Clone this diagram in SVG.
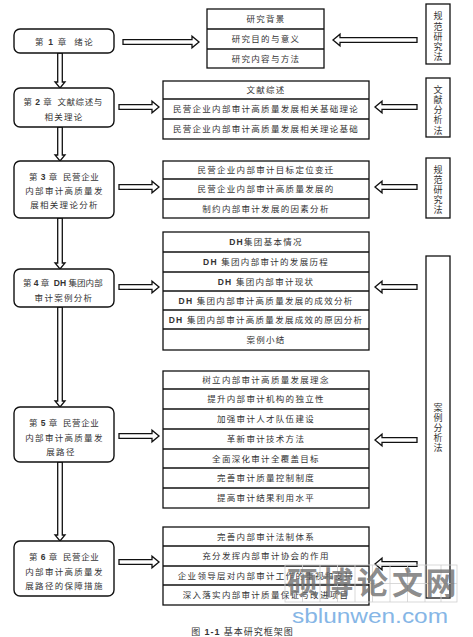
<svg xmlns="http://www.w3.org/2000/svg" width="473" height="637" viewBox="0 0 473 637">
<style>
text{font-family:"Liberation Serif","Noto Sans CJK SC",serif;font-size:8.5px;fill:#333;letter-spacing:1.3px;white-space:pre}
.c{text-anchor:middle}
.b{font-weight:bold;font-family:"Liberation Sans","Noto Sans CJK SC",sans-serif}
.box{fill:#fff;stroke:#111;stroke-width:1.3}
.ch{fill:#fff;stroke:#111;stroke-width:1.4}
.div{stroke:#111;stroke-width:1.7}
.arr{fill:#fff;stroke:#111;stroke-width:1.3;stroke-linejoin:miter}
.v{text-anchor:middle;font-size:9px;letter-spacing:0}
.wm{font-family:"Noto Sans CJK SC",sans-serif;font-weight:bold;font-size:31px;fill:#6e6e6e;fill-opacity:0.8;text-anchor:middle;letter-spacing:0}
.grid{fill:none;stroke:#cfcfcf;stroke-width:0.8}
</style>

<g id="connectors">
  <polygon class="arr" points="57.7,53 62.3,53 62.3,82 65,82 60,88 55,82 57.7,82"/>
  <polygon class="arr" points="57.7,127 62.3,127 62.3,155 65,155 60,161 55,155 57.7,155"/>
  <polygon class="arr" points="57.7,218 62.3,218 62.3,263 65,263 60,269 55,263 57.7,263"/>
  <polygon class="arr" points="57.7,307 62.3,307 62.3,401 65,401 60,407 55,401 57.7,401"/>
  <polygon class="arr" points="57.7,462 62.3,462 62.3,535 65,535 60,541 55,535 57.7,535"/>
  <polygon class="arr" points="123,39.7 192,39.7 192,36.2 199,42 192,47.8 192,44.3 123,44.3"/>
  <polygon class="arr" points="119,104.7 152,104.7 152,101.2 159,107 152,112.8 152,109.3 119,109.3"/>
  <polygon class="arr" points="119,184.7 152,184.7 152,181.2 159,187 152,192.8 152,189.3 119,189.3"/>
  <polygon class="arr" points="119,284.7 152,284.7 152,281.2 159,287 152,292.8 152,289.3 119,289.3"/>
  <polygon class="arr" points="119,433.7 152,433.7 152,430.2 159,436 152,441.8 152,438.3 119,438.3"/>
  <polygon class="arr" points="119,559.7 152,559.7 152,556.2 159,562 152,567.8 152,564.3 119,564.3"/>
  <polygon class="arr" points="417,37.7 340,37.7 340,34.2 333,40 340,45.8 340,42.3 417,42.3"/>
  <polygon class="arr" points="417,104.7 382,104.7 382,101.2 375,107 382,112.8 382,109.3 417,109.3"/>
  <polygon class="arr" points="417,184.7 382,184.7 382,181.2 375,187 382,192.8 382,189.3 417,189.3"/>
  <polygon class="arr" points="417,284.7 382,284.7 382,281.2 375,287 382,292.8 382,289.3 417,289.3"/>
  <polygon class="arr" points="417,437.7 382,437.7 382,434.2 375,440 382,445.8 382,442.3 417,442.3"/>
  <polygon class="arr" points="417,561.7 382,561.7 382,558.2 375,564 382,569.8 382,566.3 417,566.3"/>
</g>

<g id="ch1">
  <rect class="ch" x="14" y="29" width="100" height="24" rx="6"/>
  <text class="c" x="64.5" y="44.5">第 <tspan class="b">1</tspan> 章  绪论</text>
</g>
<g id="ch2">
  <rect class="ch" x="14" y="88" width="100" height="39" rx="6"/>
  <text class="c" x="63.5" y="105" textLength="80" lengthAdjust="spacing">第 <tspan class="b">2</tspan> 章  文献综述与</text>
  <text class="c" x="64" y="120">相关理论</text>
</g>
<g id="ch3">
  <rect class="ch" x="14" y="161" width="100" height="57" rx="6"/>
  <text class="c" x="64.5" y="180" textLength="71" lengthAdjust="spacing">第 <tspan class="b">3</tspan> 章  民营企业</text>
  <text class="c" x="64.5" y="194">内部审计高质量发</text>
  <text class="c" x="64.5" y="208">展相关理论分析</text>
</g>
<g id="ch4">
  <rect class="ch" x="14" y="269" width="100" height="38" rx="6"/>
  <text class="c" x="63.5" y="286" textLength="81" lengthAdjust="spacing">第 <tspan class="b">4</tspan> 章  <tspan class="b">DH</tspan> 集团内部</text>
  <text class="c" x="64" y="301">审计案例分析</text>
</g>
<g id="ch5">
  <rect class="ch" x="14" y="407" width="100" height="55" rx="6"/>
  <text class="c" x="64.5" y="426" textLength="71" lengthAdjust="spacing">第 <tspan class="b">5</tspan> 章  民营企业</text>
  <text class="c" x="64.5" y="441">内部审计高质量发</text>
  <text class="c" x="61" y="455">展路径</text>
</g>
<g id="ch6">
  <rect class="ch" x="14" y="541" width="100" height="55" rx="6"/>
  <text class="c" x="64.5" y="560" textLength="71" lengthAdjust="spacing">第 <tspan class="b">6</tspan> 章  民营企业</text>
  <text class="c" x="64.5" y="575">内部审计高质量发</text>
  <text class="c" x="64.5" y="589">展路径的保障措施</text>
</g>

<g id="list1">
  <rect class="box" x="207" y="9" width="117" height="59"/>
  <line class="div" x1="207" y1="29" x2="324" y2="29"/>
  <line class="div" x1="207" y1="49" x2="324" y2="49"/>
  <text class="c" x="266" y="22">研究背景</text>
  <text class="c" x="266" y="42">研究目的与意义</text>
  <text class="c" x="266" y="61.5">研究内容与方法</text>
</g>
<g id="list2">
  <rect class="box" x="163" y="81" width="206" height="58"/>
  <line class="div" x1="163" y1="99" x2="369" y2="99"/>
  <line class="div" x1="163" y1="119" x2="369" y2="119"/>
  <text class="c" x="266" y="93">文献综述</text>
  <text class="c" x="266" y="112">民营企业内部审计高质量发展相关基础理论</text>
  <text class="c" x="266" y="132">民营企业内部审计高质量发展相关理论基础</text>
</g>
<g id="list3">
  <rect class="box" x="163" y="161" width="206" height="57"/>
  <line class="div" x1="163" y1="179" x2="369" y2="179"/>
  <line class="div" x1="163" y1="199" x2="369" y2="199"/>
  <text class="c" x="266" y="173">民营企业内部审计目标定位变迁</text>
  <text class="c" x="266" y="192">民营企业内部审计高质量发展的</text>
  <text class="c" x="266" y="211.5">制约内部审计发展的因素分析</text>
</g>
<g id="list4">
  <rect class="box" x="163" y="232" width="206" height="118"/>
  <line class="div" x1="163" y1="252" x2="369" y2="252"/>
  <line class="div" x1="163" y1="272" x2="369" y2="272"/>
  <line class="div" x1="163" y1="291" x2="369" y2="291"/>
  <line class="div" x1="163" y1="310" x2="369" y2="310"/>
  <line class="div" x1="163" y1="329" x2="369" y2="329"/>
  <text class="c" x="266" y="245"><tspan class="b">DH</tspan>集团基本情况</text>
  <text class="c" x="266" y="265"><tspan class="b">DH</tspan> 集团内部审计的发展历程</text>
  <text class="c" x="266" y="284.5"><tspan class="b">DH</tspan> 集团内部审计现状</text>
  <text class="c" x="266" y="303.5"><tspan class="b">DH</tspan> 集团内部审计高质量发展的成效分析</text>
  <text class="c" x="266" y="322.5"><tspan class="b">DH</tspan> 集团内部审计高质量发展成效的原因分析</text>
  <text class="c" x="266" y="342.5">案例小结</text>
</g>
<g id="list5">
  <rect class="box" x="163" y="371" width="206" height="137"/>
  <line class="div" x1="163" y1="389" x2="369" y2="389"/>
  <line class="div" x1="163" y1="409" x2="369" y2="409"/>
  <line class="div" x1="163" y1="429" x2="369" y2="429"/>
  <line class="div" x1="163" y1="449" x2="369" y2="449"/>
  <line class="div" x1="163" y1="468" x2="369" y2="468"/>
  <line class="div" x1="163" y1="488" x2="369" y2="488"/>
  <text class="c" x="266" y="383">树立内部审计高质量发展理念</text>
  <text class="c" x="266" y="402">提升内部审计机构的独立性</text>
  <text class="c" x="266" y="422">加强审计人才队伍建设</text>
  <text class="c" x="266" y="442">革新审计技术方法</text>
  <text class="c" x="266" y="461.5">全面深化审计全覆盖目标</text>
  <text class="c" x="266" y="481">完善审计质量控制制度</text>
  <text class="c" x="266" y="501">提高审计结果利用水平</text>
</g>
<g id="list6">
  <rect class="box" x="163" y="527" width="206" height="78"/>
  <line class="div" x1="163" y1="546" x2="369" y2="546"/>
  <line class="div" x1="163" y1="566" x2="369" y2="566"/>
  <line class="div" x1="163" y1="585" x2="369" y2="585"/>
  <text class="c" x="266" y="539.5">完善内部审计法制体系</text>
  <text class="c" x="266" y="559">充分发挥内部审计协会的作用</text>
  <text class="c" x="266" y="578.5">企业领导层对内部审计工作的重视和支持</text>
  <text class="c" x="266" y="598">深入落实内部审计质量保证与改进项目</text>
</g>

<g id="method1">
  <rect class="box" x="426" y="4" width="24" height="60"/>
  <text class="v" x="438" y="19">规</text>
  <text class="v" x="438" y="30">范</text>
  <text class="v" x="438" y="40">研</text>
  <text class="v" x="438" y="50">究</text>
  <text class="v" x="438" y="60">法</text>
</g>
<g id="method2">
  <rect class="box" x="426" y="78" width="24" height="59"/>
  <text class="v" x="438" y="93">文</text>
  <text class="v" x="438" y="103">献</text>
  <text class="v" x="438" y="113">分</text>
  <text class="v" x="438" y="123">析</text>
  <text class="v" x="438" y="134">法</text>
</g>
<g id="method3">
  <rect class="box" x="426" y="158" width="24" height="60"/>
  <text class="v" x="438" y="173">规</text>
  <text class="v" x="438" y="183">范</text>
  <text class="v" x="438" y="193">研</text>
  <text class="v" x="438" y="203">究</text>
  <text class="v" x="438" y="213">法</text>
</g>
<g id="method4">
  <rect class="box" x="426" y="256" width="24" height="342"/>
  <text class="v" x="438" y="411">案</text>
  <text class="v" x="438" y="421">例</text>
  <text class="v" x="438" y="431">分</text>
  <text class="v" x="438" y="441">析</text>
  <text class="v" x="438" y="451">法</text>
</g>

<g id="caption">
  <text class="c" x="242.5" y="635" style="font-size:9px;letter-spacing:1px">图 <tspan class="b">1-1</tspan> 基本研究框架图</text>
</g>

<g id="watermark">
  <rect class="grid" x="285" y="565" width="172" height="37"/>
  <path class="grid" d="M320,565V602M355,565V602M390,565V602M425,565V602M285,583.5H457M302.5,565V602M337.5,565V602M372.5,565V602M407.5,565V602M441,565V602"/>
  <text class="wm" x="302.5" y="594">硕</text>
  <text class="wm" x="337.5" y="594">博</text>
  <text class="wm" x="372.5" y="594">论</text>
  <text class="wm" x="407.5" y="594">文</text>
  <text class="wm" x="441" y="594">网</text>
  <text x="292" y="623" textLength="156" lengthAdjust="spacingAndGlyphs" style="font-family:'Liberation Sans',sans-serif;font-size:21px;fill:#86b6e6;letter-spacing:0">sblunwen.com</text>
</g>
</svg>
